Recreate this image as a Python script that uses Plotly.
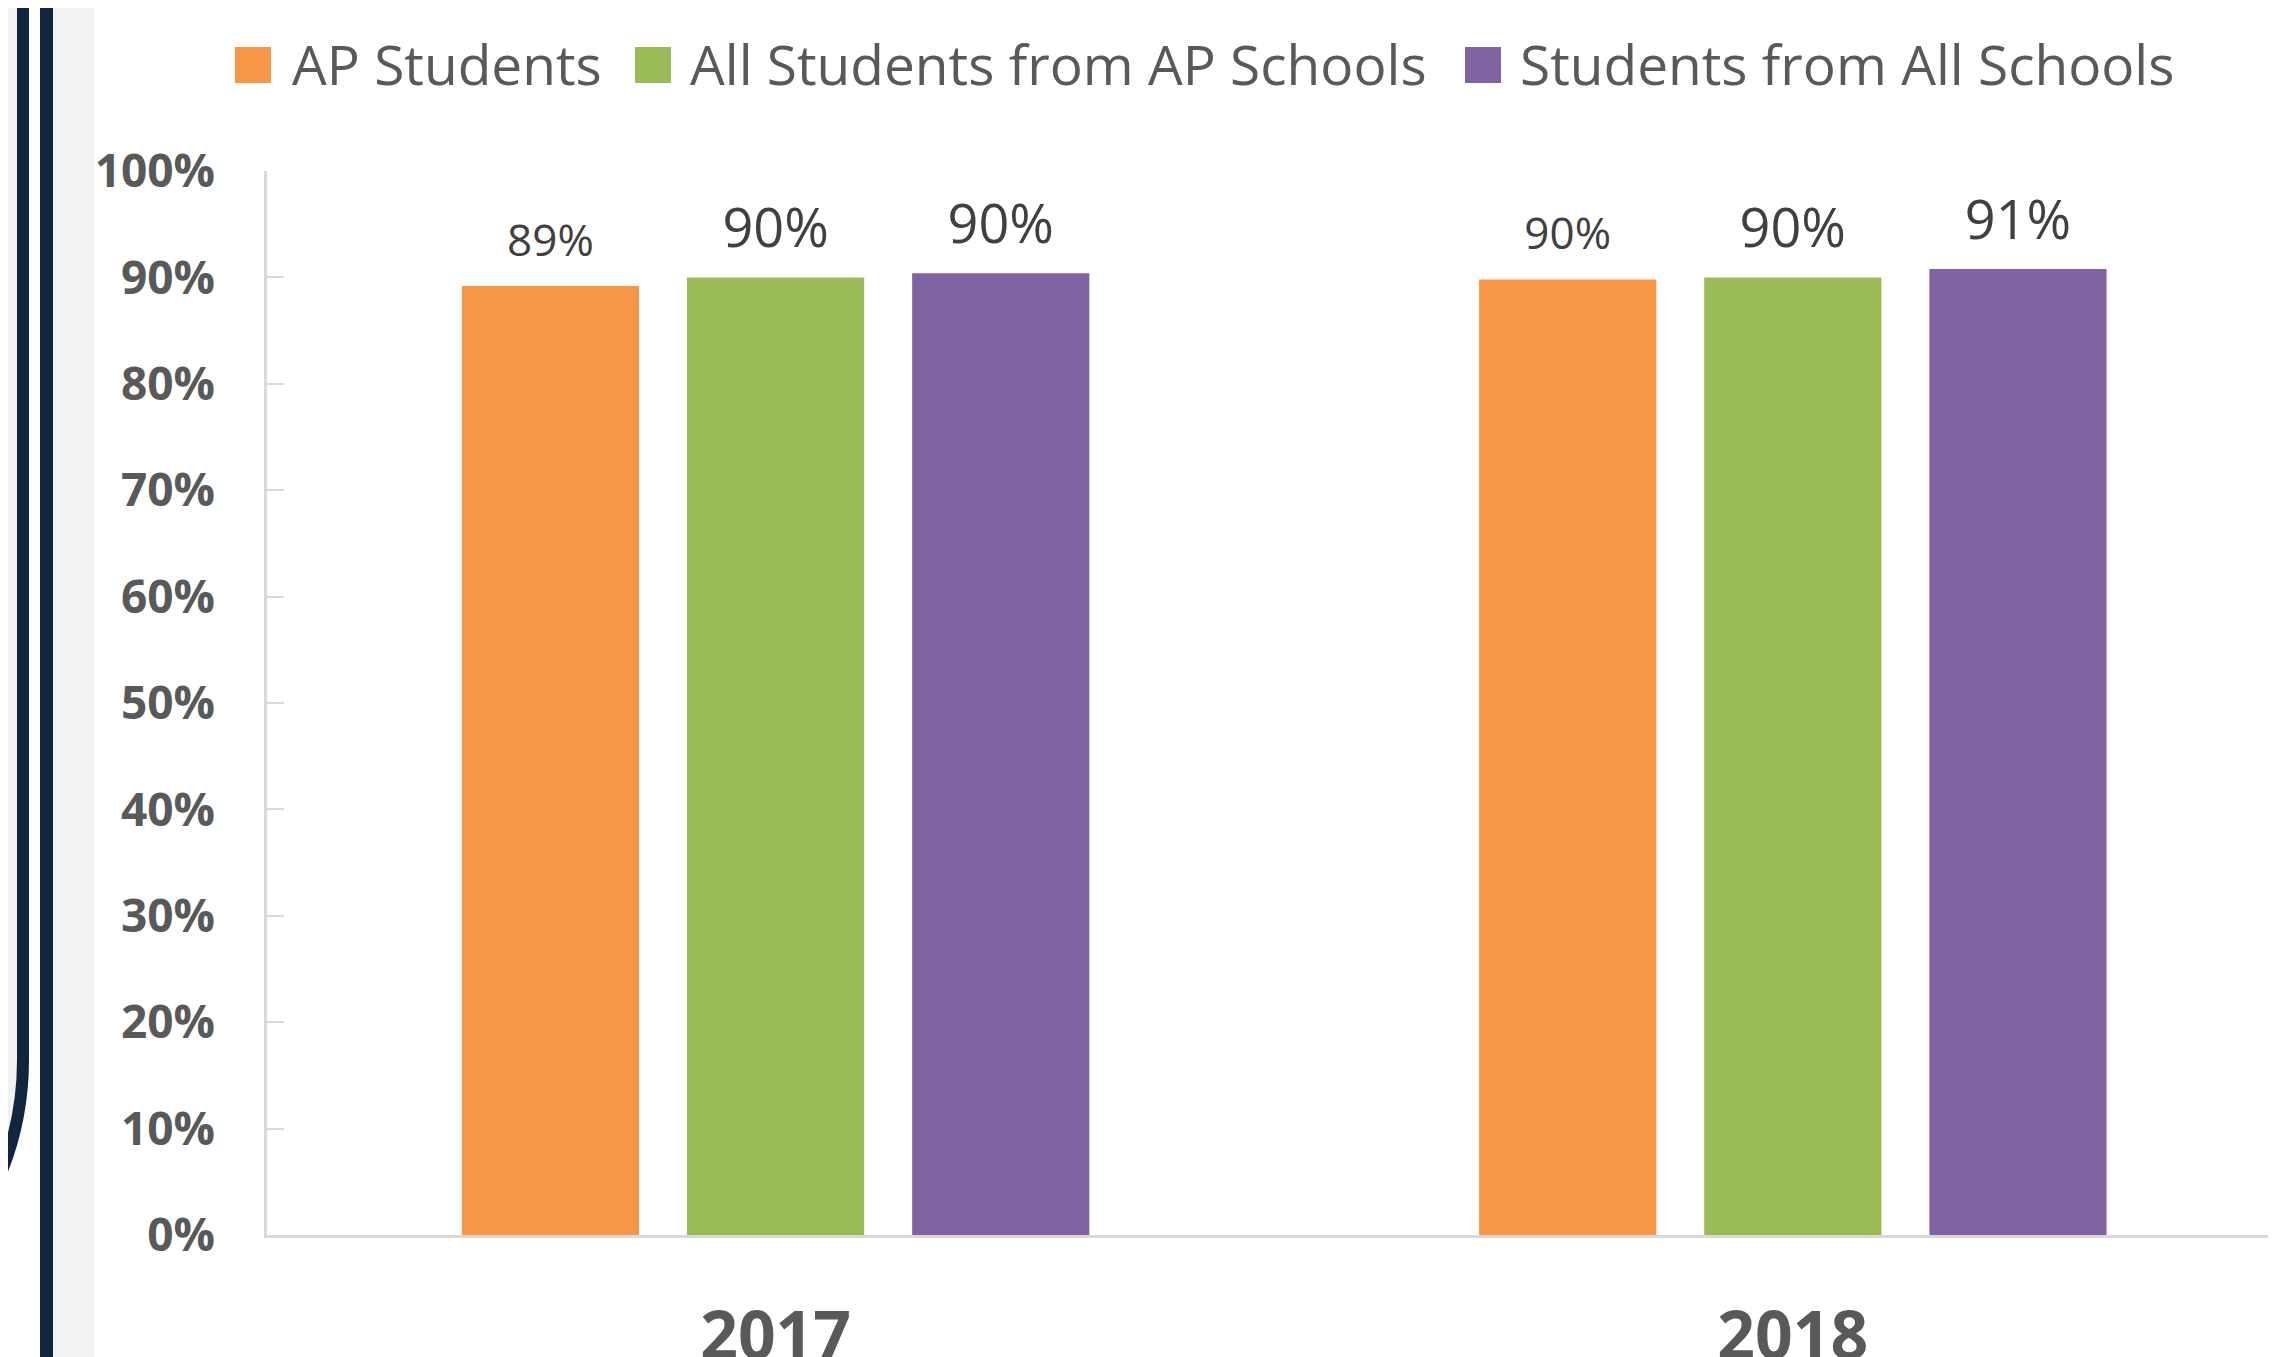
import plotly.graph_objects as go

# ---------------- data ----------------
years = ["2017", "2018"]
series_names = ["AP Students", "All Students from AP Schools", "Students from All Schools"]
ap_students = [0.892, 0.898]
all_students_ap_schools = [0.900, 0.900]
students_all_schools = [0.904, 0.908]
y_tick_values = [0.0, 0.1, 0.2, 0.3, 0.4, 0.5, 0.6, 0.7, 0.8, 0.9, 1.0]
y_tick_labels = ["0%", "10%", "20%", "30%", "40%", "50%", "60%", "70%", "80%", "90%", "100%"]

series_values = [ap_students, all_students_ap_schools, students_all_schools]
colors = ["#F79646", "#9BBB59", "#8064A2"]
label_sizes = [44, 54, 54]

# ---------------- layout geometry ----------------
OFF = 8                      # default page body margin
W, H = 2276 - OFF, 1357 - OFF
L, R, T, B = 267 - OFF, 0, 171 - OFF, 122
PW, PH = W - L - R, H - T - B


def px_x(p):
    """window pixel x -> paper coordinate"""
    return (p - OFF - L) / PW


def px_y(p):
    """window pixel y (from top) -> paper coordinate"""
    return (H - B - (p - OFF)) / PH


FONT = "Open Sans"
GRAY_TXT = "#595959"
AXIS_CLR = "#D9D9D9"
NAVY = "#12253F"

fig = go.Figure()
for name, vals, col, fs in zip(series_names, series_values, colors, label_sizes):
    fig.add_trace(go.Bar(
        x=years, y=vals, name=name,
        marker=dict(color=col, line=dict(width=0)),
        texttemplate=(f"<span style='font-size:{fs}px'>%{{y:.0%}}</span>"
                      "<br><span style='color:rgba(0,0,0,0)'>.</span>"),
        textposition="outside",
        textfont=dict(family=FONT, size=17, color="#404040"),
        cliponaxis=False, showlegend=False,
    ))

shapes = []
# left decoration: gray strip right of the second line
shapes.append(dict(type="rect", xref="paper", yref="paper",
                   x0=px_x(53), x1=px_x(94), y0=px_y(1400), y1=px_y(-20),
                   fillcolor="#F2F2F2", line=dict(width=0), layer="below"))
# rounded gray panel with navy border
path = (f"M {px_x(23)},{px_y(-30)} L {px_x(23)},{px_y(1060)} "
        f"C {px_x(23)},{px_y(1226)} {px_x(-111)},{px_y(1360)} {px_x(-277)},{px_y(1360)} "
        f"L {px_x(-300)},{px_y(-30)} Z")
shapes.append(dict(type="path", xref="paper", yref="paper", path=path,
                   fillcolor="#F2F2F2", line=dict(color=NAVY, width=12), layer="below"))
# second navy line
shapes.append(dict(type="line", xref="paper", yref="paper",
                   x0=px_x(46.5), x1=px_x(46.5), y0=px_y(-20), y1=px_y(1400),
                   line=dict(color=NAVY, width=13)))

# custom legend
swatch_x = [235, 635, 1465]
text_x = [290, 688, 1518]
annotations = []
for name, col, sx, tx in zip(series_names, colors, swatch_x, text_x):
    shapes.append(dict(type="rect", xref="paper", yref="paper",
                       x0=px_x(sx), x1=px_x(sx + 36), y0=px_y(83), y1=px_y(47),
                       fillcolor=col, line=dict(width=0)))
    annotations.append(dict(xref="paper", yref="paper", x=px_x(tx), y=px_y(63),
                            xanchor="left", yanchor="middle", showarrow=False,
                            text=name, font=dict(family=FONT, size=55, color=GRAY_TXT)))

fig.update_layout(
    template="none",
    width=W, height=H,
    margin=dict(l=L, r=R, t=T, b=B, pad=0, autoexpand=False),
    paper_bgcolor="white", plot_bgcolor="white",
    barmode="group", bargap=0.336, bargroupgap=0.213,
    shapes=shapes, annotations=annotations,
    xaxis=dict(
        type="category", range=[-0.5, 1.475], automargin=False,
        showline=True, linecolor=AXIS_CLR, linewidth=3,
        showgrid=False, ticks="", zeroline=False,
        tickfont=dict(family=FONT, size=66, color=GRAY_TXT, weight="bold"),
        ticklabelstandoff=42,
    ),
    yaxis=dict(
        range=[0, 1], tickvals=y_tick_values, ticktext=y_tick_labels, automargin=False,
        showline=True, linecolor=AXIS_CLR, linewidth=2.5,
        showgrid=False, zeroline=False,
        ticks="inside", ticklen=17, tickwidth=2, tickcolor=AXIS_CLR,
        tickfont=dict(family=FONT, size=46, color=GRAY_TXT, weight="bold"),
        ticklabelstandoff=40,
    ),
)

fig.write_html("out.html")
